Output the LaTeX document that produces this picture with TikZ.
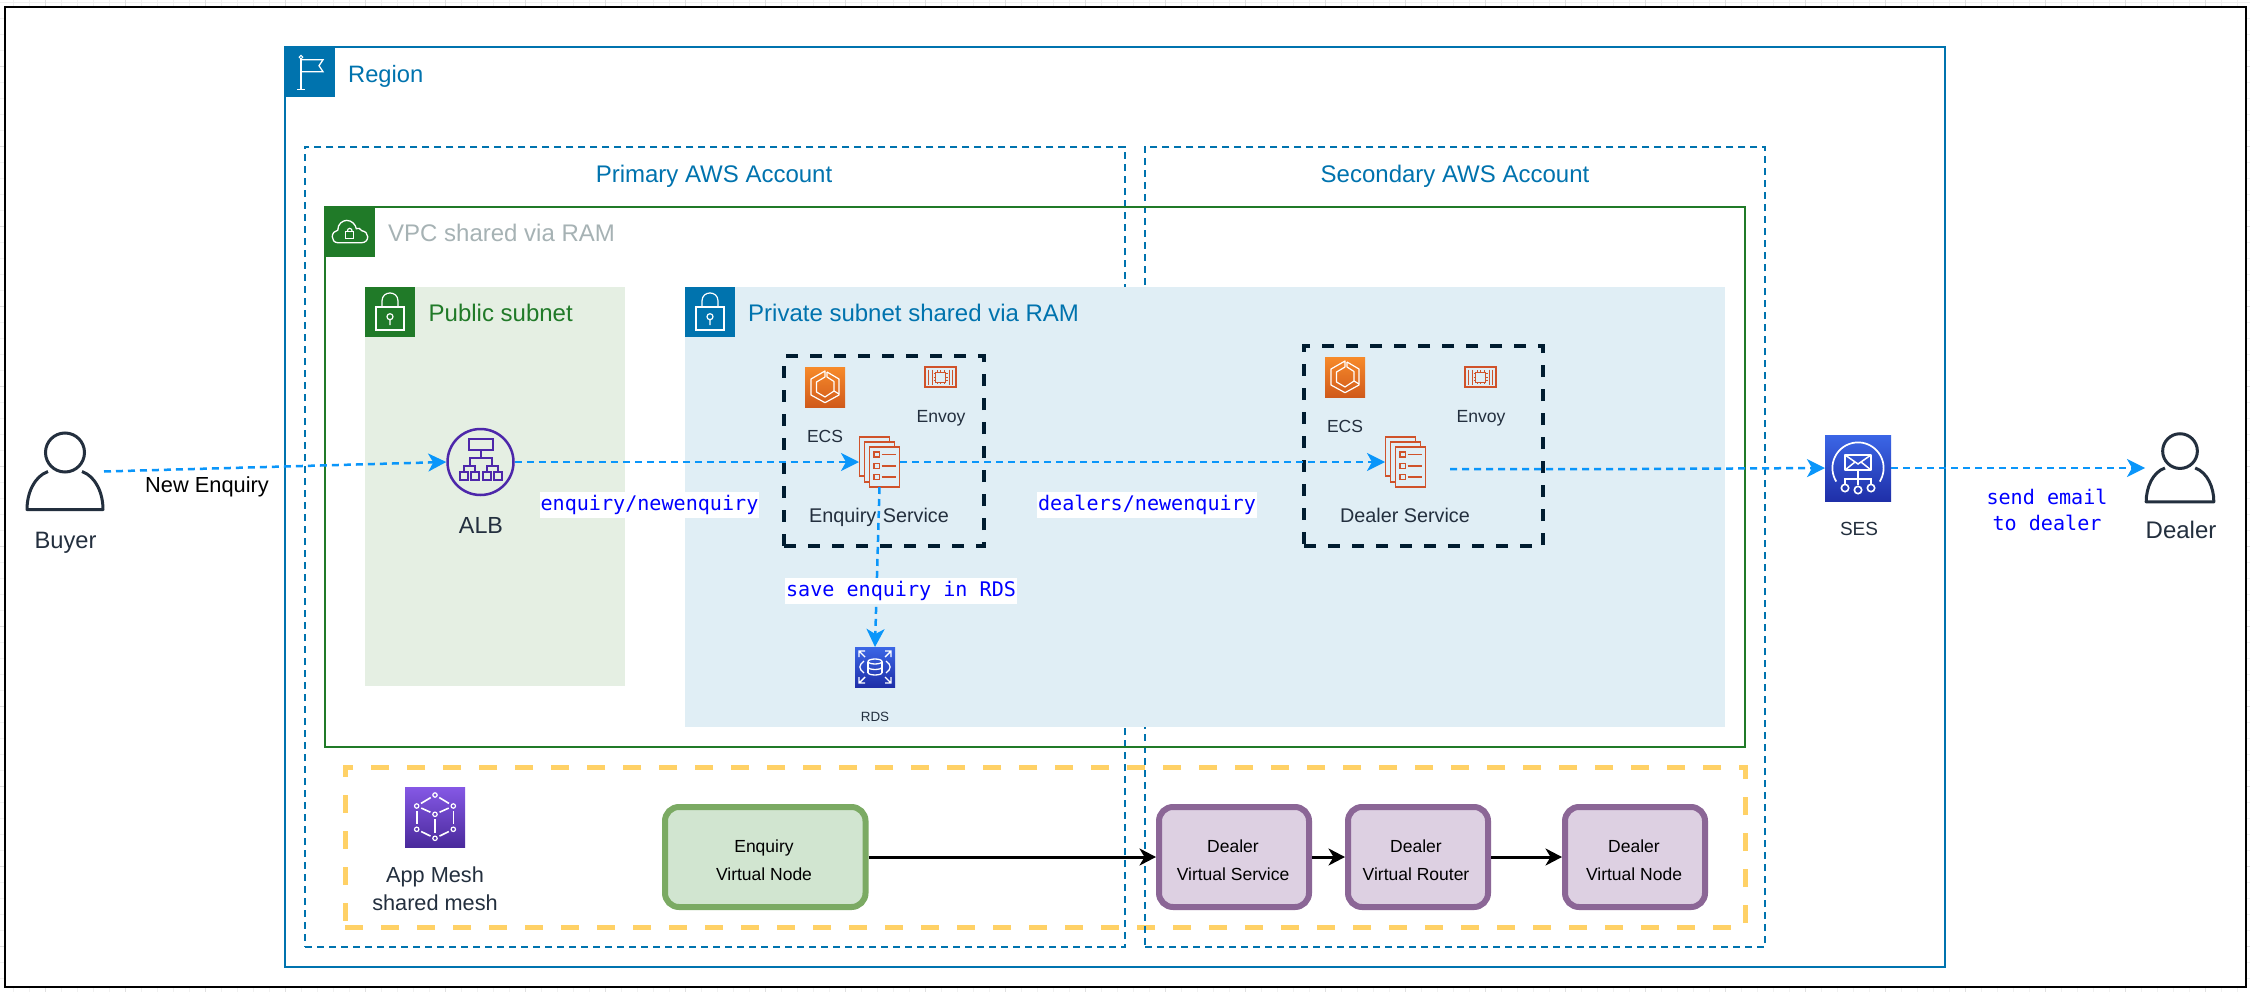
\documentclass[tikz,border=0pt]{standalone}
\usepackage{fontspec}
\setmainfont{Liberation Sans}
\setmonofont{DejaVu Sans Mono}
\usetikzlibrary{arrows.meta,calc}
\definecolor{awsblue}{HTML}{0073AE}
\definecolor{awsgreen}{HTML}{207A28}
\definecolor{vpcgrey}{HTML}{A6B2B4}
\definecolor{pubfill}{HTML}{E5EFE3}
\definecolor{privfill}{HTML}{E0EEF5}
\definecolor{darktxt}{HTML}{232F3E}
\definecolor{navy}{HTML}{001C30}
\definecolor{flowblue}{HTML}{0A96FA}
\definecolor{meshyellow}{HTML}{FFD166}
\definecolor{okfill}{HTML}{D1E5D0}
\definecolor{okline}{HTML}{7BAA63}
\definecolor{lilacfill}{HTML}{DDD0E2}
\definecolor{lilacline}{HTML}{8B6696}
\definecolor{svcred}{HTML}{D0522A}
\definecolor{albpurple}{HTML}{4D27AA}
\definecolor{gridmajor}{HTML}{E0E0E0}
\definecolor{gridminor}{HTML}{F0F0F0}
\definecolor{ecstop}{HTML}{F78A2A}
\definecolor{ecsbot}{HTML}{D05A1B}
\definecolor{dbtop}{HTML}{3B66E6}
\definecolor{dbbot}{HTML}{1F2FA8}
\definecolor{meshtop}{HTML}{8558E5}
\definecolor{meshbot}{HTML}{4A2A9C}
\tikzset{
  zone/.style={inner sep=0pt,outer sep=0pt},
  regionbox/.style={zone,draw=awsblue,line width=2pt},
  acctbox/.style={zone,draw=awsblue,line width=2pt,dash pattern=on 7pt off 5pt},
  vpcbox/.style={zone,draw=awsgreen,line width=2pt},
  taskbox/.style={zone,draw=navy,line width=4pt,dash pattern=on 12pt off 12pt},
  meshbox/.style={zone,draw=meshyellow,line width=5pt,dash pattern=on 18pt off 18pt},
  txt/.style={inner sep=0pt,text=darktxt,align=center,font=\fontsize{#1}{28}\selectfont},
  monolab/.style={inner xsep=1pt,inner ysep=0pt,minimum height=26pt,fill=white,text=blue,align=center,
    font=\ttfamily\fontsize{20.1}{26}\selectfont},
  iconbox/.style={inner sep=0pt,outer sep=0pt,minimum width=#1,minimum height=#1},
  flow/.style={draw=flowblue,line width=2.5pt,dash pattern=on 7pt off 5pt,
    -{Stealth[length=18pt,width=18pt,inset=5pt]}},
  meshflow/.style={draw=black,line width=3pt,-{Stealth[length=16.5pt,width=17pt,inset=5pt]}},
  vnode/.style={draw,line width=6pt,rounded corners=14pt,inner sep=0pt},
  okvnode/.style={vnode,draw=okline,fill=okfill},
  lilacvnode/.style={vnode,draw=lilacline,fill=lilacfill},
  pics/flagglyph/.style={code={
    \draw[white,line width=1.3pt] (-9,-13)--(-9,17.5) (-13,17.5)--(-5,17.5);
    \draw[white,line width=1.3pt] (-9,-12)--(13,-12)--(9,-6)--(13,0)--(-9,0);
    \draw[white,line width=1pt] (-9,-14.5) circle[radius=1.8];
  }},
  pics/cloudglyph/.style={code={
    \draw[white,line width=1.3pt] (-12,11) .. controls (-15.5,11) and (-17.5,8) .. (-17.5,5)
      .. controls (-17.5,1.5) and (-15,-1) .. (-12,-1.5)
      .. controls (-12,-8) and (-7,-11.3) .. (-3,-11.3)
      .. controls (2,-11.3) and (6,-7) .. (6.5,-3)
      .. controls (8,-4) and (11,-3.5) .. (12,-1)
      .. controls (15.5,-0.5) and (18,2) .. (18,5)
      .. controls (18,8.5) and (15.5,11) .. (12,11) -- cycle;
    \draw[white,line width=1.2pt] (-4,0) rectangle (4,6.7);
    \draw[white,line width=1.2pt] (-2.5,0) .. controls (-2.5,-4.5) and (2.5,-4.5) .. (2.5,0);
  }},
  pics/lockglyph/.style={code={
    \draw[white,line width=1.2pt] (-14,-4.7) rectangle (14,18.3);
    \draw[white,line width=1.2pt] (-8,-4.7) -- (-8,-10.7) .. controls (-8,-21.4) and (8,-21.4) .. (8,-10.7) -- (8,-4.7);
    \draw[white,line width=1.2pt] (0,5) circle[radius=3] (0,8)--(0,13.5);
  }},
  pics/ecsglyph/.style={code={
    \draw[white,line width=1.2pt,line join=round] (2,-15)--(14,-8)--(14,8)--(0,15.7)--(-14,8)--(-14,-8)--(0,-16)--(0,-10);
    \draw[white,line width=1.2pt,line join=round] (2,-15)--(2,-10)--(9,-5.5)--(9,4)--(14,7);
    \draw[white,line width=1.2pt,line join=round] (0,-10)--(-8.5,-5)--(-8.5,5)--(0,10)--(9,4);
  }},
  pics/chipglyph/.style={code={
    \draw[svcred,line width=1.2pt] (-15.5,-10) rectangle (15.5,10);
    \draw[svcred,line width=1pt] (-5,-5) rectangle (5,5);
    \foreach \p in {-3.5,0,3.5}{
      \draw[svcred,line width=.6pt] (\p,-7)--(\p,-5) (\p,5)--(\p,7) (-7,\p)--(-5,\p) (5,\p)--(7,\p);
    }
    \foreach \p in {-12,-8.5,8.5,12}{
      \draw[svcred,line width=.9pt] (\p,-7.5)--(\p,7.5);
    }
  }},
  pics/svcglyph/.style={code={
    \draw[svcred,line width=1.4pt,fill=privfill] (-20,-25) rectangle (10,14);
    \draw[svcred,line width=1.4pt,fill=privfill] (-15,-20) rectangle (15,20);
    \draw[svcred,line width=1.4pt,fill=privfill] (-10,-15) rectangle (20,25);
    \foreach \yy in {-10,1.3,12.3}{
      \draw[svcred,line width=1.4pt] (-5.7,\yy) rectangle (-0.3,\yy+5);
      \draw[svcred,line width=1.4pt] (2,\yy+2.6)--(16.3,\yy+2.6);
    }
  }},
  pics/person/.style={code={
    \draw[darktxt,line width=3pt] (0,-19) circle[radius=19.5];
    \draw[darktxt,line width=3pt,line join=round] (-17,0)
      .. controls (-31,5) and (-38,22) .. (-38,38) -- (38,38)
      .. controls (38,22) and (31,5) .. (17,0);
  }},
  pics/albglyph/.style={code={
    \draw[albpurple,line width=2pt] (-11.5,-23.5) rectangle (12,-12.5);
    \draw[albpurple,line width=2pt] (0,-12.5)--(0,-4.5) (-11,3.5)--(-11,-4.5)--(11,-4.5)--(11,3.5)
      (-17,10)--(-17,3.5)--(-6,3.5)--(-6,10) (6,10)--(6,3.5)--(17,3.5)--(17,10);
    \foreach \p in {-17,-6,6,17}{
      \draw[albpurple,line width=2pt] (\p-4,10) rectangle (\p+4,18);
    }
  }},
  pics/rdsglyph/.style={code={
    \foreach \sx/\sy in {-1/-1,1/-1,-1/1,1/1}{
      \draw[white,line width=1.4pt] (10*\sx,10*\sy)--(16*\sx,16*\sy)
        (16*\sx,10*\sy)--(16*\sx,16*\sy)--(10*\sx,16*\sy);
    }
    \draw[white,line width=1.3pt] (-11,-6) .. controls (-16.5,-2) and (-16.5,2) .. (-11,6);
    \draw[white,line width=1.3pt] (11,-6) .. controls (16.5,-2) and (16.5,2) .. (11,6);
    \draw[white,line width=1.3pt] (0,-5.5) ellipse[x radius=7,y radius=2.5];
    \draw[white,line width=1.3pt] (-7,-5.5)--(-7,5.5) (7,-5.5)--(7,5.5);
    \draw[white,line width=1.3pt] (-7,5.5) .. controls (-7,8.8) and (7,8.8) .. (7,5.5);
    \draw[white,line width=1.3pt] (-7,0) .. controls (-7,3.3) and (7,3.3) .. (7,0);
  }},
  pics/sesglyph/.style={code={
    \draw[white,line width=1.7pt] plot[domain=-32:212,samples=40,smooth] ({25.6*cos(\x)},{-25.6*sin(\x)});
    \draw[white,line width=1.8pt,line join=round] (-13,-13) rectangle (13,2);
    \draw[white,line width=1.5pt] (-13,-13)--(0,-4)--(13,-13) (-13,2)--(-3,-6) (13,2)--(3,-6);
    \draw[white,line width=1.6pt] (0,2)--(0,17) (-13,16)--(-13,11)--(13,11)--(13,16);
    \draw[white,line width=1.6pt] (-13,20) circle[radius=3.7] (0,22) circle[radius=3.7] (13,20) circle[radius=3.7];
  }},
  pics/meshglyph/.style={code={
    \coordinate (mt) at (0,-22); \coordinate (mul) at (-18.3,-11); \coordinate (mur) at (18.3,-11);
    \coordinate (mc) at (0,-2.7); \coordinate (mll) at (-18.3,12.3); \coordinate (mlr) at (18.3,12.3);
    \coordinate (mb) at (0,21.3);
    \foreach \a/\b in {mt/mul,mt/mur,mul/mc,mur/mc,mc/mb,mul/mll,mur/mlr,mll/mb,mlr/mb}{
      \draw[white,line width=1.6pt,shorten <=5pt,shorten >=5pt] (\a)--(\b);
    }
    \foreach \a in {mt,mul,mur,mc,mll,mlr,mb}{
      \draw[white,line width=1.2pt] (\a) circle[radius=2.2];
    }
  }},
}
\newcommand{\zonenode}[6]{%
  \node[#1,minimum width={#5-#3},minimum height={#6-#4}] (#2) at ({(#3+#5)/2},{(#4+#6)/2}) {};}
\begin{document}
\begin{tikzpicture}[x=1pt,y=-1pt]
\useasboundingbox (0,0) rectangle (2250,992);
% canvas grid behind the frame
\foreach \gx in {13,29,...,2250}{\draw[gridminor,line width=.8pt] (\gx,0)--(\gx,992);}
\foreach \gy in {2,18,...,992}{\draw[gridminor,line width=.8pt] (0,\gy)--(2250,\gy);}
\foreach \gx in {45,125,...,2250}{\draw[gridmajor,line width=.8pt] (\gx,0)--(\gx,992);}
\foreach \gy in {66,146,...,992}{\draw[gridmajor,line width=.8pt] (0,\gy)--(2250,\gy);}
% containers
\zonenode{zone,draw=black,line width=2pt,fill=white}{frame}{4.5}{6.7}{2245.5}{987}
\zonenode{regionbox}{region}{285}{46.7}{1944.5}{967}
\zonenode{meshbox}{mesh}{345}{767}{1745}{927}
\zonenode{acctbox}{primary}{305}{146.7}{1125}{947}
\zonenode{acctbox}{secondary}{1145}{146.7}{1765}{947}
\zonenode{vpcbox}{vpc}{324.5}{206.7}{1745}{747}
\zonenode{zone,fill=pubfill}{public}{365}{286.7}{625}{686}
\zonenode{zone,fill=privfill}{private}{685}{286.7}{1725}{726.7}
\zonenode{taskbox}{enqtask}{784}{356}{984}{546}
\zonenode{taskbox}{dealtask}{1304}{346}{1543}{546}
% container tabs
\zonenode{zone,fill=awsblue}{regiontab}{285}{46.7}{335}{96.7}
\zonenode{zone,fill=awsgreen}{vpctab}{324.5}{206.7}{375}{256.7}
\zonenode{zone,fill=awsgreen}{pubtab}{365}{286.7}{415}{336.7}
\zonenode{zone,fill=awsblue}{privtab}{685}{286.7}{735}{336.7}
\pic at (regiontab.center) {flagglyph};
\pic at (vpctab.center) {cloudglyph};
\pic at (pubtab.center) {lockglyph};
\pic at (privtab.center) {lockglyph};
% container titles
\node[txt=23.7,text=awsblue,anchor=west] (regiontitle) at (348,76) {Region};
\node[txt=24,text=awsblue] (primarytitle) at (714,176.5) {Primary AWS Account};
\node[txt=24,text=awsblue] (secondarytitle) at (1455,176.5) {Secondary AWS Account};
\node[txt=24,text=vpcgrey,anchor=west] (vpctitle) at (388,233) {VPC shared via RAM};
\node[txt=24,text=awsgreen,anchor=west] (pubtitle) at (428.5,313) {Public subnet};
\node[txt=24,text=awsblue,anchor=west] (privtitle) at (748,313) {Private subnet shared via RAM};
% people
\node[iconbox=1pt,minimum width=78pt,minimum height=79pt] (buyer) at (65,471.5) {};
\pic at (buyer.center) {person};
\node[txt=23.7] (buyertxt) at (65.5,542.5) {Buyer};
\node[iconbox=1pt,minimum width=70pt,minimum height=70pt] (dealer) at (2180,468) {};
\pic[scale=.89] at (dealer.center) {person};
\node[txt=24] (dealertxt) at (2181,530) {Dealer};
% ALB
\node[circle,draw=albpurple,line width=2.5pt,inner sep=0pt,minimum size=66pt] (alb) at (480.5,462) {};
\pic at (alb.center) {albglyph};
\node[txt=23.3] (albtxt) at (481,525.5) {ALB};
% enquiry task
\node[iconbox=40pt,top color=ecstop,bottom color=ecsbot] (ecsa) at (825,387) {};
\pic at (ecsa.center) {ecsglyph};
\node[txt=17.5] (ecsatxt) at (825,436) {ECS};
\node[iconbox=1pt,minimum width=31pt,minimum height=20pt] (envoya) at (940.5,377) {};
\pic at (envoya.center) {chipglyph};
\node[txt=17.6] (envoyatxt) at (941,418) {Envoy};
\node[iconbox=1pt,minimum width=41pt,minimum height=50pt] (enqsvc) at (879.5,462) {};
\pic at (enqsvc.center) {svcglyph};
% dealer task
\node[iconbox=40pt,top color=ecstop,bottom color=ecsbot] (ecsb) at (1345,377) {};
\pic at (ecsb.center) {ecsglyph};
\node[txt=17.5] (ecsbtxt) at (1345,426) {ECS};
\node[iconbox=1pt,minimum width=31pt,minimum height=20pt] (envoyb) at (1480.5,377) {};
\pic at (envoyb.center) {chipglyph};
\node[txt=17.6] (envoybtxt) at (1481,418) {Envoy};
\node[iconbox=1pt,minimum width=41pt,minimum height=50pt] (dealsvc) at (1405.5,462) {};
\pic at (dealsvc.center) {svcglyph};
% RDS, SES, App Mesh icons
\node[iconbox=40pt,top color=dbtop,bottom color=dbbot] (rds) at (875,667) {};
\pic at (rds.center) {rdsglyph};
\node[txt=13.4] (rdstxt) at (875,717) {RDS};
\node[iconbox=66pt,top color=dbtop,bottom color=dbbot] (ses) at (1858,468) {};
\pic at (ses.center) {sesglyph};
\node[txt=19] (sestxt) at (1859,529) {SES};
\node[iconbox=60pt,top color=meshtop,bottom color=meshbot] (appmesh) at (435,817) {};
\pic at (appmesh.center) {meshglyph};
\node[txt=21.7] (appmeshtxt) at (435,889) {App Mesh\\shared mesh};
% connectors
\coordinate (dealout) at (1450,469);
\coordinate (dealkink) at (1639,469);
\draw[flow] (buyer.east) -- (alb.west);
\draw[flow] (alb.east) -- (enqsvc.west);
\draw[flow] (enqsvc.east) -- (dealsvc.west);
\draw[flow] (enqsvc.south) -- (rds.north);
\draw[flow] (dealout) -- (dealkink) -- (ses.west);
\draw[flow] (ses.east) -- (dealer.west);
% texts that sit over the connectors
\node[txt=19.8] (enqsvctxt) at (879,517) {Enquiry\,\,Service};
\node[txt=19.8] (dealsvctxt) at (1405,515) {Dealer Service};
\node[txt=21.8,text=black] (newenq) at (207,486.5) {New Enquiry};
\node[monolab] (lblenq) at (649.5,504.5) {enquiry/newenquiry};
\node[monolab] (lbldeal) at (1147,504.5) {dealers/newenquiry};
\node[monolab] (lblsave) at (901,590.5) {save enquiry in RDS};
\node[monolab] (lblmail) at (2047,510) {send email\\to dealer};
% virtual mesh nodes
\zonenode{okvnode}{venq}{665}{807}{865.5}{907}
\zonenode{lilacvnode}{vsvc}{1159}{807}{1309}{907}
\zonenode{lilacvnode}{vrouter}{1348}{807}{1488}{907}
\zonenode{lilacvnode}{vdeal}{1565}{807}{1705}{907}
\node[txt=17.5,text=black] (venqtxt) at (764,860) {Enquiry\\Virtual Node};
\node[txt=17.5,text=black] (vsvctxt) at (1233,860) {Dealer\\Virtual Service};
\node[txt=17.5,text=black] (vroutertxt) at (1416,860) {Dealer\\Virtual Router};
\node[txt=17.5,text=black] (vdealtxt) at (1634,860) {Dealer\\Virtual Node};
\draw[meshflow] (venq.east) -- (vsvc.west);
\draw[meshflow] (vsvc.east) -- (vrouter.west);
\draw[meshflow] (vrouter.east) -- (vdeal.west);
\end{tikzpicture}
\end{document}
